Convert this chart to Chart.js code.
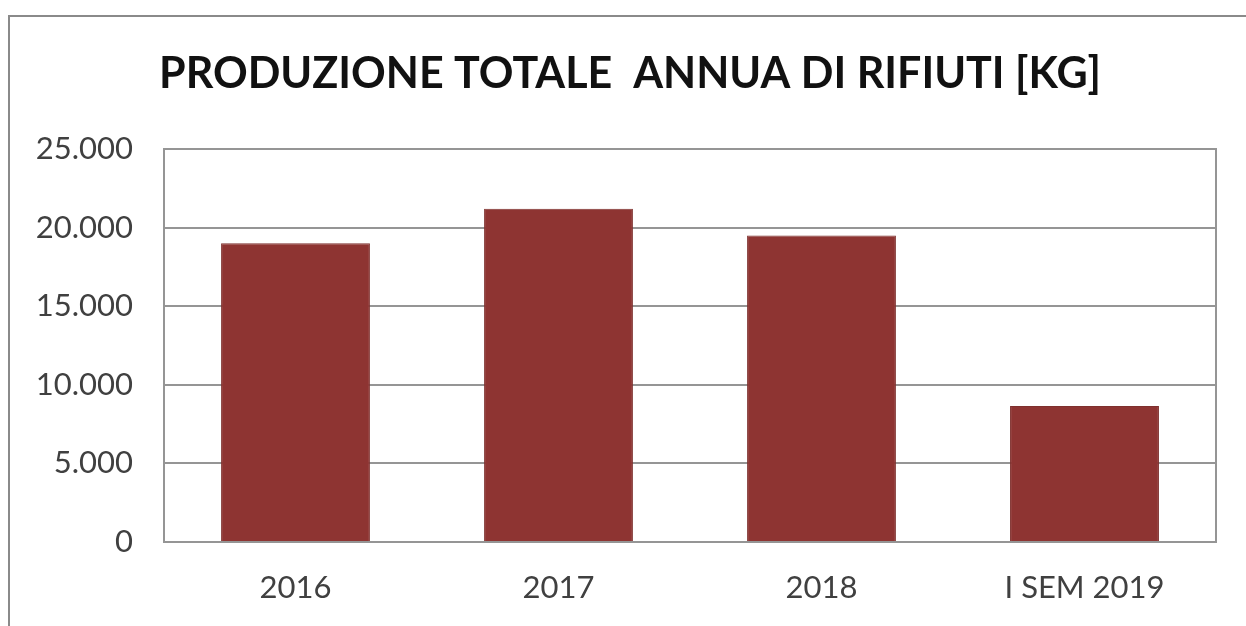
<!DOCTYPE html>
<html>
<head>
<meta charset="utf-8">
<script src="https://cdn.jsdelivr.net/npm/chart.js@4"></script>
<style>
    body { margin: 0; background: #fff; }
    #wrap { position: relative; width: 1246px; height: 626px; overflow: hidden; }
    #frame { position: absolute; left: 8px; top: 15px; width: 1300px; height: 700px;
             border-left: 2px solid #8a8a8a; border-top: 2px solid #8a8a8a; }
    #chart { position: absolute; left: 0; top: 0; }
</style>
</head>
<body>
<div id="wrap">
    <div id="frame"></div>
    <canvas id="chart" width="1246" height="626"></canvas>
</div>
<script>
// ===== Data =====
const categories = ['2016', '2017', '2018', 'I SEM 2019'];
const rifiutiKg = [19000, 21200, 19500, 8650];
const yTicks = [0, 5000, 10000, 15000, 20000, 25000];
const chartTitle = 'PRODUZIONE TOTALE  ANNUA DI RIFIUTI [KG]';

const GRID = '#959595';
const TEXT = '#404040';

function formatKg(v) {
    return String(v).replace(/\B(?=(\d{3})+(?!\d))/g, '.');
}

// outline of the plot area (top/right edges)
const plotFrame = {
    id: 'plotFrame',
    afterDatasetsDraw(chart) {
        const { ctx, chartArea: a } = chart;
        ctx.save();
        ctx.strokeStyle = GRID;
        ctx.lineWidth = 2;
        ctx.strokeRect(a.left, a.top, a.right - a.left, a.bottom - a.top);
        ctx.restore();
    }
};

new Chart(document.getElementById('chart'), {
    type: 'bar',
    data: {
        labels: categories,
        datasets: [{
            data: rifiutiKg,
            backgroundColor: '#8e3432',
            borderColor: '#7e302e',
            borderWidth: 1,
            categoryPercentage: 1,
            barPercentage: 0.566
        }]
    },
    options: {
        responsive: false,
        animation: false,
        // negative right padding + empty right axis: title sits a bit right of canvas centre
        layout: { padding: { left: 0, right: -14, top: 0, bottom: 0 } },
        plugins: {
            legend: { display: false },
            tooltip: { enabled: false },
            title: {
                display: true,
                text: chartTitle,
                color: '#111',
                font: { family: 'Lato', size: 43, weight: 'bold', lineHeight: 1.2 },
                padding: { top: 48, bottom: 49.4 }
            }
        },
        scales: {
            x: {
                grid: { display: false, drawTicks: false },
                border: { color: GRID, width: 2 },
                ticks: { color: TEXT, font: { family: 'Lato', size: 31 }, padding: 27 },
                afterFit(scale) { scale.height = 84; }
            },
            y: {
                min: 0,
                max: 25000,
                afterBuildTicks(scale) { scale.ticks = yTicks.map(v => ({ value: v })); },
                grid: { color: GRID, lineWidth: 2, drawTicks: false },
                border: { color: GRID, width: 2 },
                ticks: {
                    color: TEXT,
                    font: { family: 'Lato', size: 31 },
                    padding: 31,
                    callback: v => formatKg(v)
                },
                afterFit(scale) { scale.width = 164; }
            },
            yRight: {
                position: 'right',
                min: 0,
                max: 25000,
                grid: { display: false, drawTicks: false },
                border: { display: false },
                ticks: { display: false },
                afterFit(scale) { scale.width = 44; }
            }
        }
    },
    plugins: [plotFrame]
});
</script>
</body>
</html>
